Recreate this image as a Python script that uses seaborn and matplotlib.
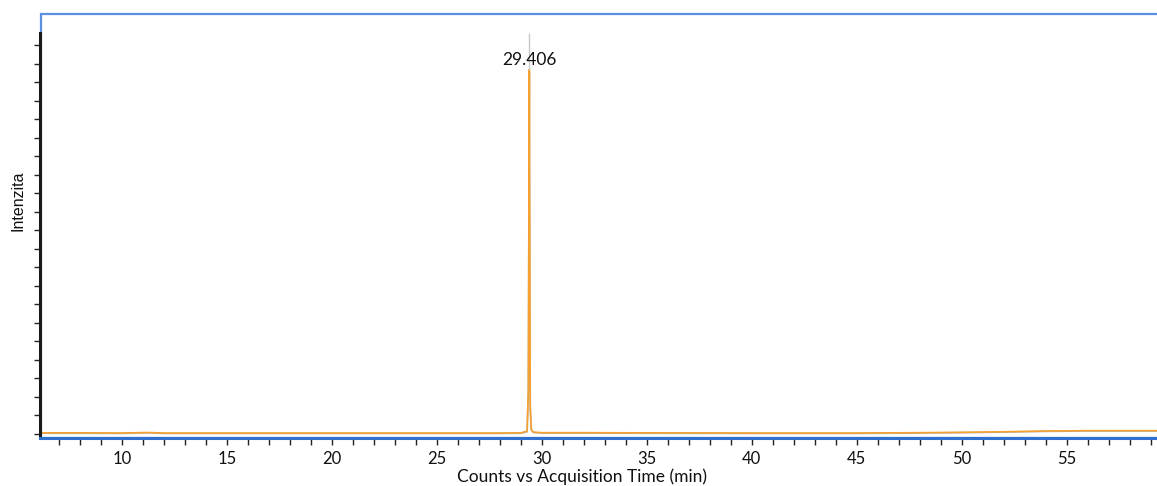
import numpy as np
import pandas as pd
import matplotlib
matplotlib.use("Agg")
import matplotlib.pyplot as plt
import seaborn as sns
from matplotlib.patches import Rectangle

# ---- data (intensity in arbitrary units, 1 unit = 1 y-tick) ----
time_min = [6.1, 8.0, 10.0, 11.2, 12.0, 15.0, 20.0, 25.0, 28.0, 29.0, 29.30, 29.36,
            29.39, 29.406, 29.42, 29.45, 29.50, 29.60, 30.0, 32.0, 35.0, 40.0, 45.0,
            48.0, 50.0, 52.0, 54.0, 56.0, 58.0, 59.3]
orange_int = [0.06, 0.06, 0.05, 0.08, 0.05, 0.05, 0.05, 0.05, 0.05, 0.06, 0.15, 2.5,
              14.0, 19.7, 12.0, 1.5, 0.25, 0.10, 0.07, 0.07, 0.06, 0.05, 0.05,
              0.07, 0.09, 0.12, 0.16, 0.18, 0.18, 0.18]
grey_int = [0.04, 0.04, 0.03, 0.06, 0.03, 0.03, 0.03, 0.03, 0.03, 0.04, 0.12, 2.3,
            13.5, 19.5, 11.5, 1.3, 0.2, 0.08, 0.05, 0.05, 0.04, 0.03, 0.03,
            0.05, 0.07, 0.10, 0.14, 0.16, 0.16, 0.16]
peak_rt = 29.406
peak_height = 19.7
peak_label = "29.406"
x_major_ticks = [10, 15, 20, 25, 30, 35, 40, 45, 50, 55]
x_minor_ticks = list(range(7, 60))
y_ticks = list(range(0, 22))

df = pd.DataFrame({
    "time": time_min * 2,
    "intensity": grey_int + orange_int,
    "trace": ["grey"] * len(time_min) + ["orange"] * len(time_min),
})

sns.set_theme(style="white")
plt.rcParams["font.family"] = ["Lato", "DejaVu Sans"]

fig = plt.figure(figsize=(11.57, 4.86), dpi=100)
ax = fig.add_axes([40 / 1157, 1 - 437.5 / 486, 1 - 40 / 1157, (437.5 - 14) / 486])

sns.lineplot(data=df, x="time", y="intensity", hue="trace",
             palette={"grey": "#b4b4b4", "orange": "#f5a030"},
             linewidth=1.2, legend=False, ax=ax, estimator=None, sort=False)

# marker line above the peak and retention-time label
ax.vlines(peak_rt, peak_height, 21.7, color="#c8c8c8", linewidth=1.0)
ax.text(peak_rt, 20.2, peak_label, ha="center", va="center", fontsize=12.5, color="#111111")

ax.set_xlim(6.1, 59.3)
ax.set_ylim(-0.19, 22.7)

ax.set_xticks(x_major_ticks)
ax.set_xticks(x_minor_ticks, minor=True)
ax.set_yticks(y_ticks)
ax.set_yticklabels([])
ax.tick_params(axis="x", which="both", direction="out", length=5, width=1,
               color="#222222", bottom=True, labelsize=12, pad=5, labelcolor="#111111")
ax.tick_params(axis="y", which="both", direction="out", length=4, width=1,
               color="#222222", left=True)

for s in ["top", "right"]:
    ax.spines[s].set_visible(False)
ax.spines["left"].set_color("#1a1a1a")
ax.spines["left"].set_linewidth(2.2)
ax.spines["left"].set_bounds(-0.19, 21.7)
ax.spines["bottom"].set_color("#2f6fd0")
ax.spines["bottom"].set_linewidth(2.2)

# blue frame (top + left)
ax.add_patch(Rectangle((0.001, 0), 2, 0.999, transform=ax.transAxes, fill=False,
                       edgecolor="#5b8fe0", linewidth=1.6, clip_on=False))

ax.set_xlabel("Counts vs Acquisition Time (min)", fontsize=12.5, color="#111111")
ax.xaxis.set_label_coords(0.485, -0.074)
ax.set_ylabel("Intenzita", fontsize=11.5, family=["Liberation Sans"], color="#111111")
ax.yaxis.set_label_coords(-0.013, 0.56)

fig.savefig("out.png", dpi=100)
